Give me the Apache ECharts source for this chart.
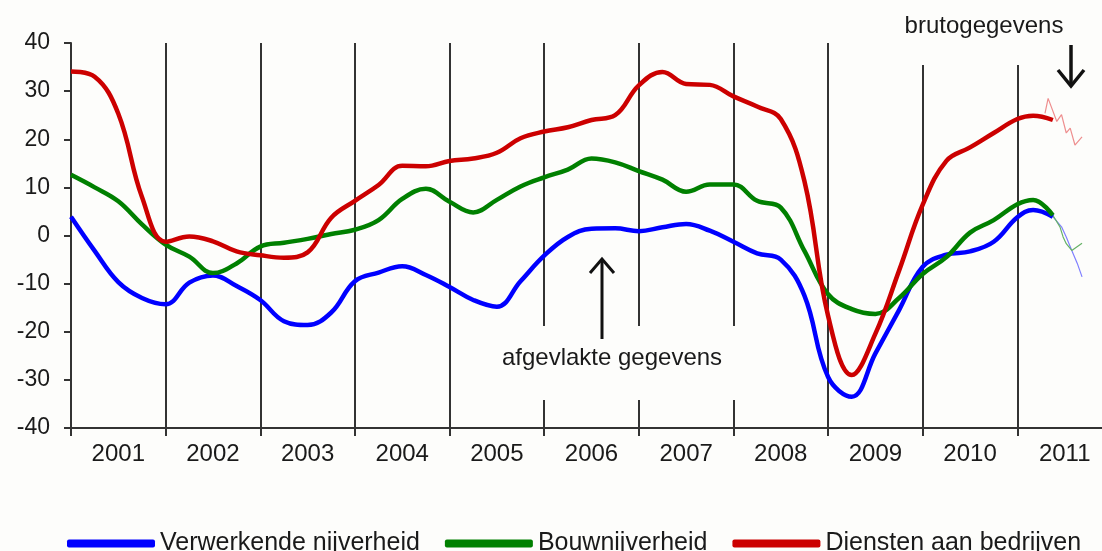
<!DOCTYPE html>
<html>
<head>
<meta charset="utf-8">
<script src="https://cdn.jsdelivr.net/npm/echarts@6/dist/echarts.min.js"></script>
<style>
html,body{margin:0;padding:0;background:#fdfdfb;}
#chart{width:1102px;height:551px;}
</style>
</head>
<body>
<div id="chart"></div>
<script>
// x positions: months since January 2001
const months = [0,3,6,9,12,15,18,21,24,27,30,33,36,39,42,45,48,51,54,57,60,63,66,69,72,75,78,81,84,87,90,93,96,99,102,105,108,111,114,117,120,122,124.5];
const years = ['2001','2002','2003','2004','2005','2006','2007','2008','2009','2010','2011'];
const yTicks = [-40,-30,-20,-10,0,10,20,30,40];

// smoothed data (afgevlakte gegevens)
const verwerkende = [3.9,-3.2,-9.7,-13,-14.3,-9.8,-8.3,-10.5,-13.4,-17.8,-18.6,-16,-9.5,-7.7,-6.4,-8.2,-10.7,-13.4,-14.8,-9.5,-4.2,-0.3,1.4,1.5,0.9,1.7,2.4,1,-1.3,-3.7,-5,-12.5,-29.4,-33.5,-24.5,-15.5,-6.5,-4,-3.3,-1.3,3.8,5.3,3.9];
const bouw = [12.6,10,7.1,2.3,-1.9,-4.4,-7.8,-5.8,-2.3,-1.5,-0.7,0.3,1.2,3.2,7.6,9.7,7,4.8,7.4,10.2,12.1,13.7,16,15.2,13.4,11.6,9.1,10.6,10.6,7.2,5.8,-3.2,-12.2,-15.3,-16.3,-13,-8,-4.5,0.6,3.2,6.5,7.4,4.2];
const diensten = [34.1,33,25.3,8,-1.3,-0.2,-1.2,-3.3,-4.1,-4.6,-3.5,3.7,7.2,10.5,14.5,14.4,15.5,16,17.2,20.2,21.6,22.5,24,25,31.2,34,31.5,31.3,28.9,26.8,24.2,11.3,-16.7,-29,-20.4,-7.3,6.4,15.5,18.3,21.3,24.2,24.9,24];

// raw data (brutogegevens)
const verwerkendeRawMonths = [124.5,125.6,126.2,126.9,127.6,128.2];
const verwerkendeRaw = [3.9,1.8,-0.3,-3.1,-5.8,-8.6];
const bouwRawMonths = [124.5,125.4,125.8,126.2,126.9,128.2];
const bouwRaw = [4.2,1.8,-0.3,-1.7,-3.1,-1.6];
const dienstenRawMonths = [123.5,123.9,125.0,125.6,126.2,126.7,127.3,128.2];
const dienstenRaw = [25.4,28.5,23.7,25.1,21.3,22.3,18.8,20.5];

const names = ['Verwerkende nijverheid','Bouwnijverheid','Diensten aan bedrijven'];
const colors = ['#0000ff','#008000','#cc0000'];
const rawColors = ['#7f7fff','#66b266','#ee8e8e'];

const pair = (xs, ys) => xs.map((x, i) => [x, ys[i]]);
const font = '"Liberation Sans", Arial, sans-serif';
const bg = '#fdfdfb';

const chart = echarts.init(document.getElementById('chart'));
const smooth = [verwerkende, bouw, diensten];
const raws = [[verwerkendeRawMonths, verwerkendeRaw],[bouwRawMonths, bouwRaw],[dienstenRawMonths, dienstenRaw]];
const series = [];
raws.forEach((r, i) => {
  series.push({
    name: names[i] + ' (bruto)', type: 'line', xAxisIndex: 0, data: pair(r[0], r[1]),
    showSymbol: false, lineStyle: {color: rawColors[i], width: 1.2}, z: 2, silent: true
  });
});
smooth.forEach((s, i) => {
  series.push({
    name: names[i], type: 'line', xAxisIndex: 0, data: pair(months, s),
    smooth: 0.4, showSymbol: false, color: colors[i],
    lineStyle: {color: colors[i], width: 4.5}, z: 3
  });
});

chart.setOption({
  backgroundColor: bg,
  animation: false,
  grid: {left: 71, width: 1041, top: 43, bottom: 123, containLabel: false, outerBoundsMode: 'none'},
  xAxis: [{
    type: 'value', min: 0, max: 132, interval: 12,
    axisLine: {show: true, onZero: false, lineStyle: {color: '#333', width: 2}},
    axisTick: {show: true, length: 8, lineStyle: {color: '#333', width: 2}},
    axisLabel: {show: false},
    splitLine: {show: true, lineStyle: {color: '#333', width: 2}}
  }, {
    type: 'category', data: years, boundaryGap: true, position: 'bottom',
    axisLine: {show: false}, axisTick: {show: false}, splitLine: {show: false},
    axisLabel: {color: '#1a1a1a', fontSize: 24, fontFamily: font, margin: 14}
  }],
  yAxis: {
    type: 'value', min: -40, max: 40, interval: 10,
    axisLine: {show: true, lineStyle: {color: '#333', width: 2}},
    axisTick: {show: true, length: 7, lineStyle: {color: '#333', width: 2}},
    axisLabel: {color: '#1a1a1a', fontSize: 23, fontFamily: font, margin: 21,
      formatter: v => yTicks.includes(v) ? String(v) : ''},
    splitLine: {show: false}
  },
  legend: {
    data: names, left: 62, top: 526, icon: 'roundRect', itemWidth: 88, itemHeight: 8,
    itemGap: 25, textStyle: {color: '#1a1a1a', fontSize: 25, fontFamily: font, padding: [0,0,0,0]}
  },
  graphic: [
    {type: 'rect', z: 1, shape: {x: 488, y: 326, width: 256, height: 74}, style: {fill: bg}},
    {type: 'rect', z: 1, shape: {x: 880, y: 38, width: 200, height: 27}, style: {fill: bg}},
    {type: 'text', z: 5, style: {text: 'afgevlakte gegevens', x: 612, y: 358, align: 'center', verticalAlign: 'middle',
      font: '24px ' + font, fill: '#1a1a1a'}},
    {type: 'text', z: 5, style: {text: 'brutogegevens', x: 984, y: 26, align: 'center', verticalAlign: 'middle',
      font: '24px ' + font, fill: '#1a1a1a'}},
    {type: 'line', z: 5, shape: {x1: 602, y1: 339, x2: 602, y2: 259}, style: {stroke: '#111', lineWidth: 3}},
    {type: 'polyline', z: 5, shape: {points: [[590, 273], [602, 259], [614, 273]]}, style: {stroke: '#111', lineWidth: 3, fill: null}},
    {type: 'line', z: 5, shape: {x1: 1071, y1: 45, x2: 1071, y2: 86}, style: {stroke: '#111', lineWidth: 3.5}},
    {type: 'polyline', z: 5, shape: {points: [[1058, 70], [1071, 86], [1084, 70]]}, style: {stroke: '#111', lineWidth: 3.5, fill: null}}
  ],
  series: series
});
</script>
</body>
</html>
